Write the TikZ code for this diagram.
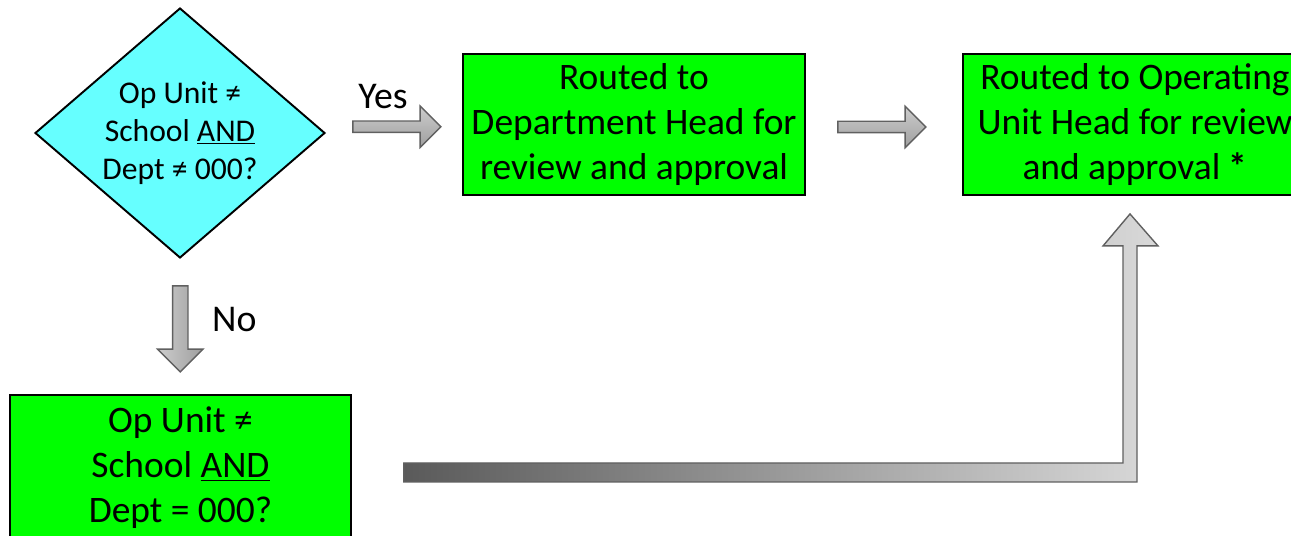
\documentclass[tikz,border=0pt]{standalone}
\usepackage{fontspec}
\setmainfont{Carlito}
\usetikzlibrary{shapes.geometric, shapes.arrows, calc}
\definecolor{boxgreen}{RGB}{0,255,0}
\definecolor{diamondcyan}{RGB}{102,255,255}
\definecolor{arrowedge}{RGB}{96,96,96}
\definecolor{bentdark}{RGB}{90,90,90}
\definecolor{bentlight}{RGB}{217,217,217}
\tikzset{
  decision/.style={
    diamond, aspect=1.16,
    fill=diamondcyan,
    draw=black, line width=1.1pt,
    minimum width=5.8cm,
    minimum height=5cm,
    inner sep=0pt,
    align=center,
    font=\fontsize{18}{21.8}\selectfont},
  routebox/.style={
    rectangle,
    fill=boxgreen,
    draw=black, line width=1.1pt,
    minimum height=2.82cm,
    align=center,
    font=\fontsize{21.3}{25.6}\selectfont},
  blockarrow/.style={
    single arrow,
    draw=arrowedge, line width=0.8pt,
    top color=gray!40, bottom color=gray!75,
    inner xsep=0pt, inner ysep=0.1cm,
    single arrow head extend=0.3cm,
    minimum height=1.76cm},
  answer/.style={font=\fontsize{21.5}{25}\selectfont},
}
\begin{document}
\begin{tikzpicture}[x=0.02cm, y=-0.02cm]
  \useasboundingbox (0,0) rectangle (1291,536);
  \node[decision] (Decision) at (180,133) {Op Unit ≠\\School \underline{AND}\\Dept ≠ 000?};
  \node[routebox, minimum width=6.84cm] (DeptHead) at (634,124.5) {Routed to\\Department Head for\\review and approval};
  \node[routebox, minimum width=6.88cm] (OpUnitHead) at (1135,124.5) {Routed to Operating\\Unit Head for review\\and approval \textbf{*}};
  \node[routebox, minimum width=6.82cm, minimum height=2.92cm] (OpUnitCheck) at (180.5,468) {Op Unit ≠\\School \underline{AND}\\Dept = 000?};

  \node[blockarrow] (YesArrow) at ($(Decision.east)!0.5!(DeptHead.west)+(0,-2)$) {};
  \node[answer] at ($(YesArrow)+(-11,-30)$) {Yes};
  \node[blockarrow] (NextArrow) at ($(DeptHead.east)!0.5!(OpUnitHead.west)+(-5,2.5)$) {};
  \node[blockarrow, shape border rotate=270, minimum height=1.72cm, inner xsep=0.14cm, inner ysep=0.14cm,
        left color=gray!40, right color=gray!75] (NoArrow) at ($(Decision.south)!0.5!(OpUnitCheck.north)+(0,-1.5)$) {};
  \node[answer] at ($(NoArrow)+(54,-5)$) {No};

  \coordinate (BendStart) at ($(OpUnitCheck.east)+(52,4.5)$);
  \coordinate (BendTip) at ($(OpUnitHead.south)+(-5,18)$);
  \draw[draw=arrowedge, line width=0.8pt, left color=bentdark, right color=bentlight]
    ($(BendStart)+(0,-9.5)$) -- ($(BendTip |- BendStart)+(-7,-9.5)$) -- ($(BendTip)+(-7,32)$)
    -- ($(BendTip)+(-27,32)$) -- (BendTip) -- ($(BendTip)+(28,32)$) -- ($(BendTip)+(7,32)$)
    -- ($(BendTip |- BendStart)+(7,9.5)$) -- ($(BendStart)+(0,9.5)$) -- cycle;
\end{tikzpicture}
\end{document}
